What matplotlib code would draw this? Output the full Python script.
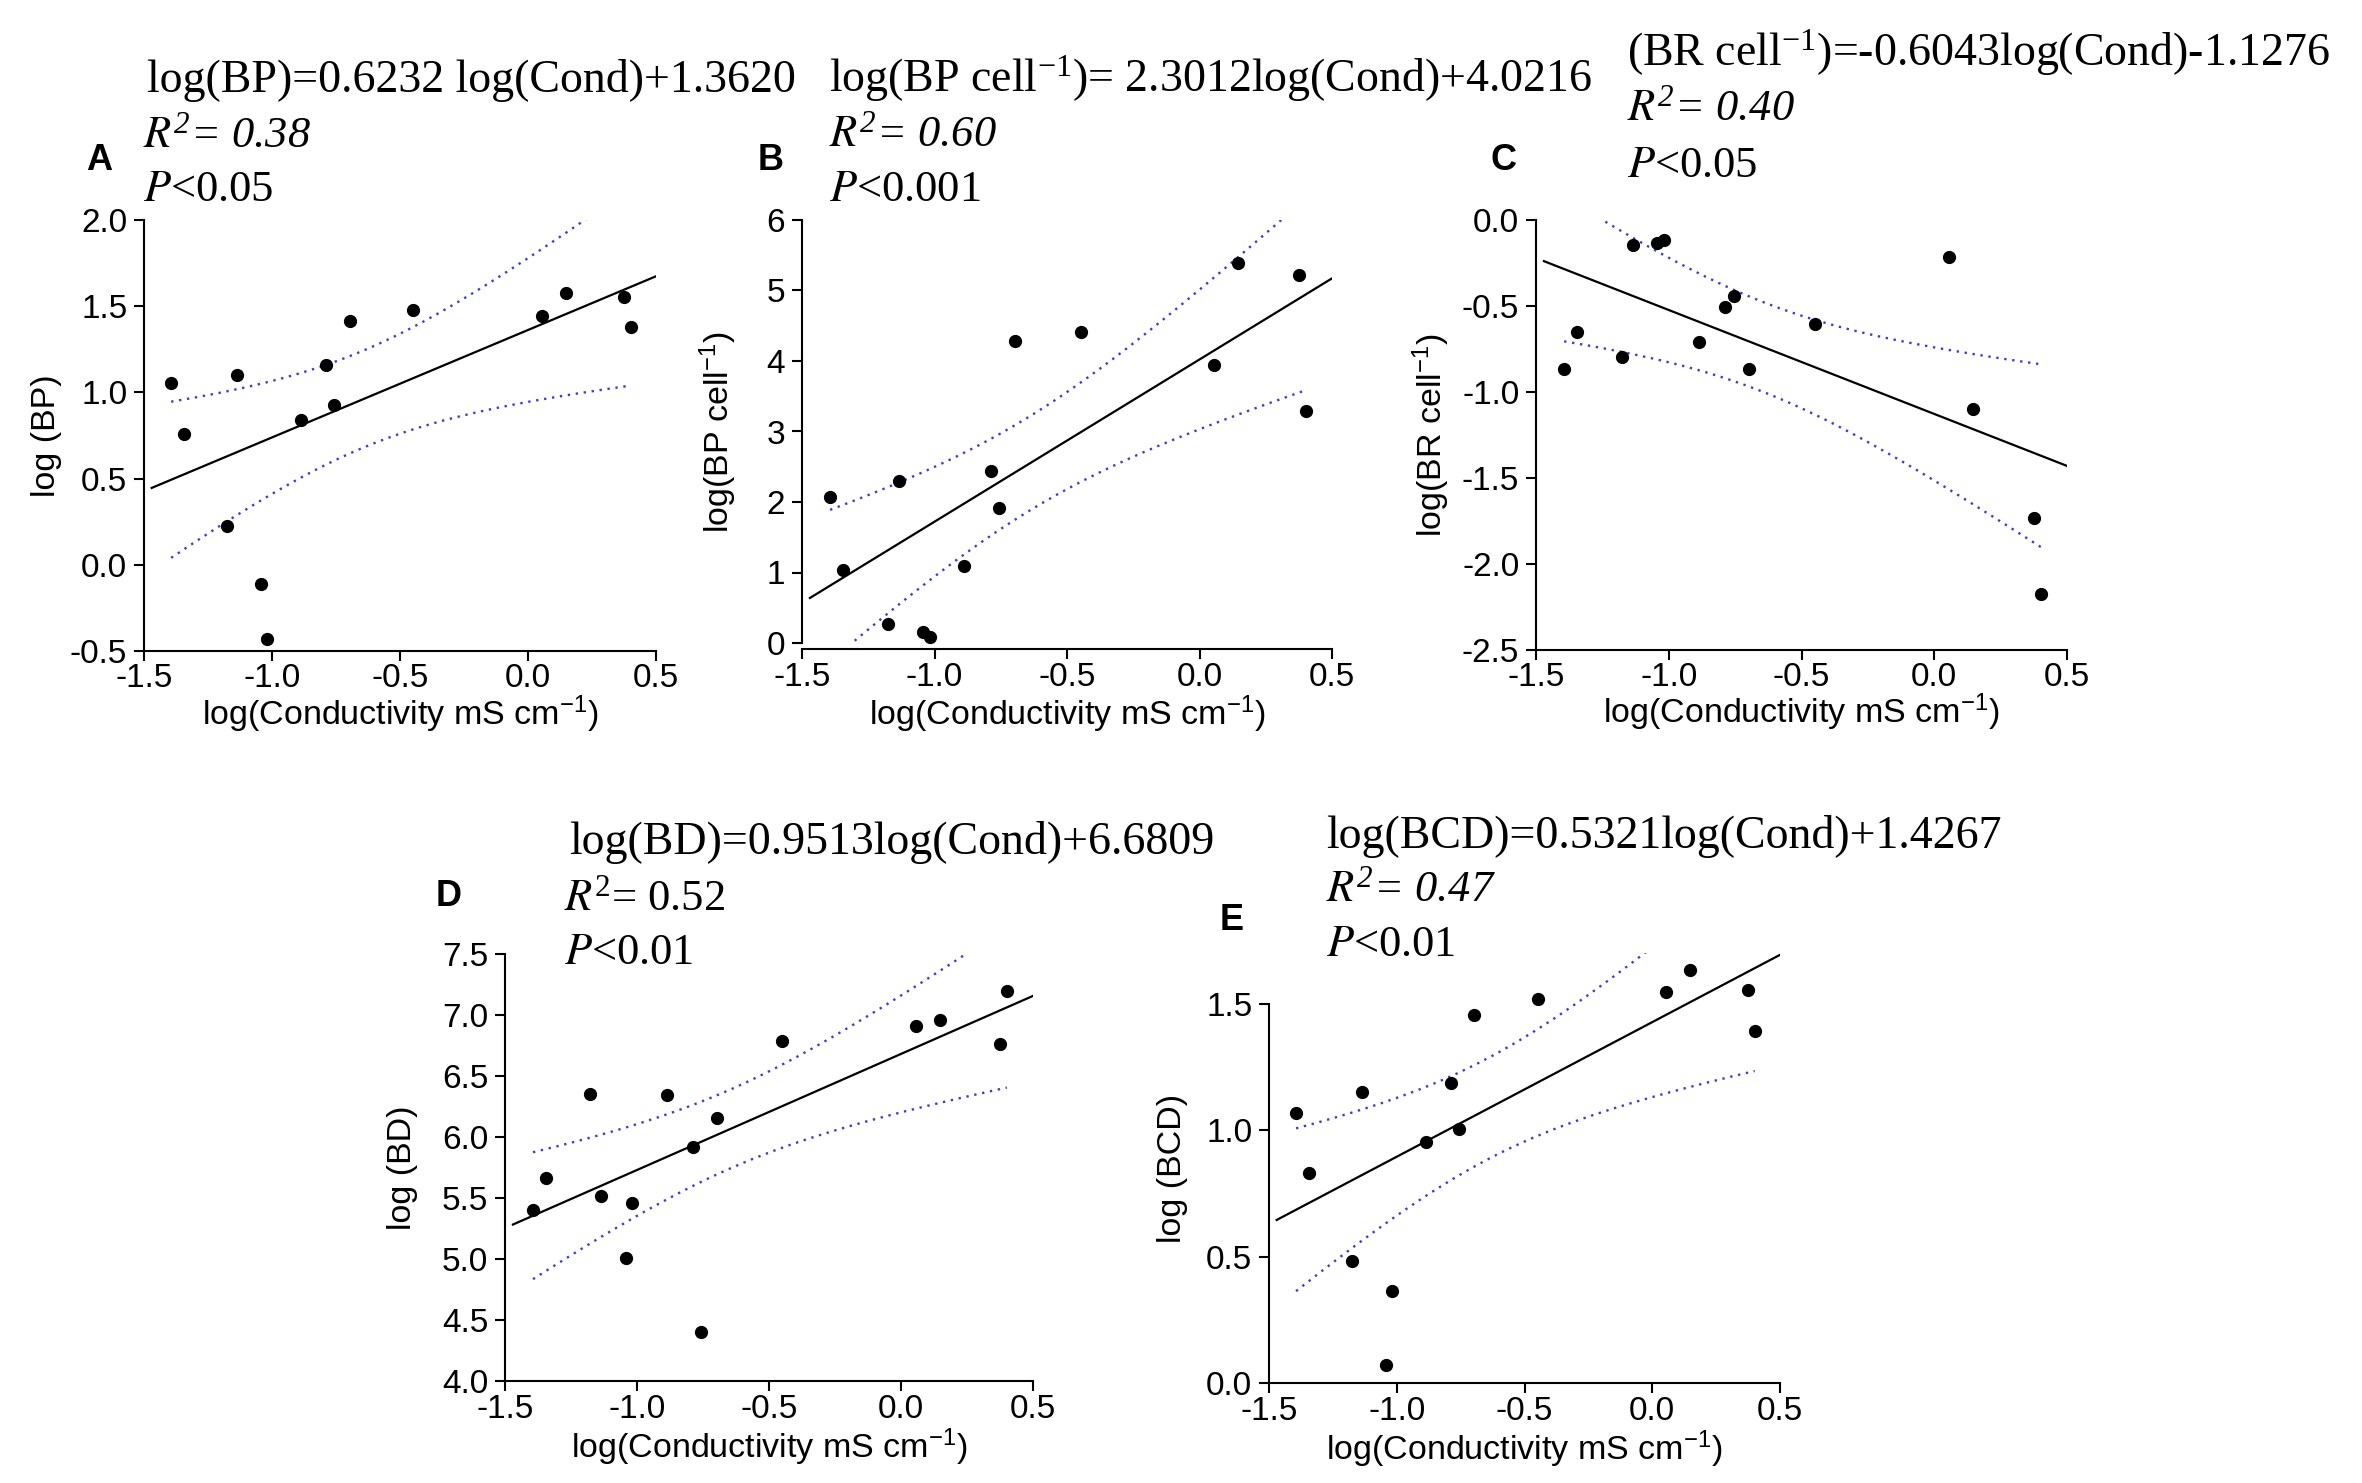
import numpy as np
import matplotlib
matplotlib.use("Agg")
import matplotlib.pyplot as plt

plt.rcParams['font.family'] = ['Liberation Sans', 'DejaVu Sans']
plt.rcParams['mathtext.fontset'] = 'stix'
plt.rcParams['mathtext.default'] = 'regular'
plt.rcParams['axes.unicode_minus'] = False

# ---------------- data ----------------
cond = [-1.394, -1.345, -1.177, -1.135, -1.043, -1.018, -0.887, -0.788,
        -0.756, -0.697, -0.449, 0.055, 0.147, 0.374, 0.401]
bp = [1.053, 0.760, 0.226, 1.102, -0.111, -0.432, 0.842, 1.157,
      0.929, 1.417, 1.477, 1.441, 1.578, 1.551, 1.378]
bp_cell = [2.078, 1.032, 0.268, 2.292, 0.161, 0.080, 1.086, 2.440,
           1.910, 4.290, 4.410, 3.941, 5.389, 5.214, 3.291]
br_cell = [-0.868, -0.651, -0.794, -0.143, -0.135, -0.118, -0.709, -0.508,
           -0.440, -0.868, -0.607, -0.214, -1.096, -1.734, -2.173]
bd = [5.399, 5.663, 6.355, 5.520, 5.009, 5.459, 6.344, 5.916,
      4.405, 6.155, 6.789, 6.907, 6.960, 6.763, 7.194]
bcd = [1.066, 0.829, 0.481, 1.152, 0.073, 0.365, 0.951, 1.187,
       1.004, 1.454, 1.518, 1.544, 1.631, 1.553, 1.391]

slopes = [0.6232, 2.3012, -0.6043, 0.9513, 0.5321]
intercepts = [1.3620, 4.0216, -1.1276, 6.6809, 1.4267]

panel_labels = ['A', 'B', 'C', 'D', 'E']
eq_texts = ['log(BP)=0.6232 log(Cond)+1.3620',
            'log(BP cell$^{-1}$)= 2.3012log(Cond)+4.0216',
            '(BR cell$^{-1}$)=-0.6043log(Cond)-1.1276',
            'log(BD)=0.9513log(Cond)+6.6809',
            'log(BCD)=0.5321log(Cond)+1.4267']
r2_texts = ['0.38', '0.60', '0.40', '0.52', '0.47']
r2_italic = [True, True, True, False, True]
p_texts = ['<0.05', '<0.001', '<0.05', '<0.01', '<0.01']
ylabels = ['log (BP)', 'log(BP cell$^{-1}$)', 'log(BR cell$^{-1}$)',
           'log (BD)', 'log (BCD)']
xlabel = 'log(Conductivity mS cm$^{-1}$)'
yticks = [[-0.5, 0.0, 0.5, 1.0, 1.5, 2.0],
          [0, 1, 2, 3, 4, 5, 6],
          [-2.5, -2.0, -1.5, -1.0, -0.5, 0.0],
          [4.0, 4.5, 5.0, 5.5, 6.0, 6.5, 7.0, 7.5],
          [0.0, 0.5, 1.0, 1.5]]
ytick_fmt = ['%.1f', '%d', '%.1f', '%.1f', '%.1f']
ylims = [(-0.5, 2.0), (0, 6), (-2.5, 0.0), (4.0, 7.5), (0.0, 1.7)]
xticks = [-1.5, -1.0, -0.5, 0.0, 0.5]
series = [bp, bp_cell, br_cell, bd, bcd]

# ---------------- layout (pixel units of 2362x1483 figure) ----------------
W, H = 2362, 1483
fig = plt.figure(figsize=(W / 100, H / 100), dpi=100)

# axes boxes: left, right, top, bottom (px)
boxes = [(144, 656, 220, 651),
         (802, 1332, 220, 643),
         (1536, 2067, 220, 650),
         (505, 1033, 954, 1381),
         (1269, 1780, 953, 1383)]
spine_top = [None, None, None, None, 1.5]
bottom_out = [0, 4.5, 0, 0, 0]
ylabel_x = [46, 718, 1431, 403, 1172]
xlabel_y = [714, 714, 712, 1447, 1449]
label_pos = [(99, 160), (771, 160), (1503, 160), (449, 897), (1232, 921)]
eq_pos = [(147, 92), (829, 92), (1627, 66), (569, 854), (1326, 848)]
r2_pos = [(143, 147), (829, 146), (1627, 120), (564, 910), (1326, 901)]
p_pos = [(143, 201), (829, 201), (1627, 177), (564, 964), (1326, 956)]

def fx(px):
    return px / W

def fy(py):
    return 1 - py / H

T13 = 2.1604  # t quantile (0.975, df=13)
band_color = '#3c3cd0'

for i in range(5):
    l, r, t, b = boxes[i]
    ax = fig.add_axes([fx(l), fy(b), (r - l) / W, (b - t) / H])
    x = np.asarray(cond)
    y = np.asarray(series[i])
    m, c0 = slopes[i], intercepts[i]

    # regression line
    xl = np.array([-1.47, 0.5])
    ax.plot(xl, m * xl + c0, color='black', lw=1.6, zorder=3)

    # 95% confidence band for the fit
    n = len(x)
    resid = y - (m * x + c0)
    s = np.sqrt(np.sum(resid ** 2) / (n - 2))
    xm = x.mean()
    sxx = np.sum((x - xm) ** 2)
    xs = np.linspace(x.min(), x.max(), 200)
    hw = T13 * s * np.sqrt(1.0 / n + (xs - xm) ** 2 / sxx)
    for sign in (1, -1):
        ax.plot(xs, m * xs + c0 + sign * hw, color=band_color, lw=1.7,
                ls=(0, (1, 2.4)), zorder=2)

    ax.plot(x, y, 'o', color='black', ms=8.5, clip_on=False, zorder=4)

    ax.set_xlim(-1.5, 0.5)
    ax.set_ylim(*ylims[i])
    ax.set_xticks(xticks)
    ax.set_xticklabels(['%.1f' % v for v in xticks])
    ax.set_yticks(yticks[i])
    ax.set_yticklabels([ytick_fmt[i] % v for v in yticks[i]])
    for sp in ('top', 'right'):
        ax.spines[sp].set_visible(False)
    for sp in ('left', 'bottom'):
        ax.spines[sp].set_linewidth(1.5)
    if spine_top[i] is not None:
        ax.spines['left'].set_bounds(ylims[i][0], spine_top[i])
    if bottom_out[i]:
        ax.spines['bottom'].set_position(('outward', bottom_out[i]))
    ax.tick_params(direction='out', length=7, width=1.5, labelsize=24,
                   colors='black')
    ax.tick_params(axis='y', pad=5)
    ax.tick_params(axis='x', pad=2)
    ax.patch.set_visible(False)

    # axis labels
    fig.text(fx((l + r) / 2), fy(xlabel_y[i]), xlabel, ha='center',
             va='center', fontsize=24.5)
    fig.text(fx(ylabel_x[i]), fy((t + b) / 2), ylabels[i], ha='center',
             va='center', rotation=90, fontsize=24.5)

    # panel label
    fig.text(fx(label_pos[i][0]), fy(label_pos[i][1]), panel_labels[i],
             ha='center', va='center', fontsize=26, fontweight='bold')

    # equation, R2, P
    serif = ['Liberation Serif', 'DejaVu Serif']
    fig.text(fx(eq_pos[i][0]), fy(eq_pos[i][1]), eq_texts[i], ha='left',
             va='baseline', fontsize=33, family=serif)
    fig.text(fx(r2_pos[i][0]), fy(r2_pos[i][1]),
             r'$\mathit{R}^{2}$= ' + r2_texts[i], ha='left', va='baseline',
             fontsize=32, family=serif,
             fontstyle='italic' if r2_italic[i] else 'normal')
    fig.text(fx(p_pos[i][0]), fy(p_pos[i][1]), r'$\mathit{P}$' + p_texts[i],
             ha='left', va='baseline', fontsize=32, family=serif)

fig.savefig('out.png', dpi=100, facecolor='white')
